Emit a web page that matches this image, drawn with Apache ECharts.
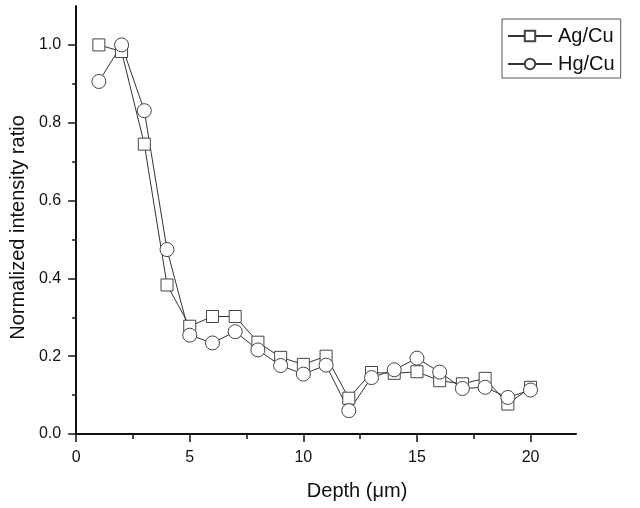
<!DOCTYPE html>
<html>
<head>
<meta charset="utf-8">
<script src="https://cdn.jsdelivr.net/npm/echarts@6/dist/echarts.min.js"></script>
<style>
  html, body { margin: 0; padding: 0; background: #fff; }
  #main { width: 640px; height: 508px; }
</style>
</head>
<body>
<div id="main"></div>
<script>
// depth in µm
const depth = [1, 2, 3, 4, 5, 6, 7, 8, 9, 10, 11, 12, 13, 14, 15, 16, 17, 18, 19, 20]
const agCu = [1.0, 0.983, 0.745, 0.383, 0.277, 0.302, 0.302, 0.236, 0.197, 0.179,
  0.2, 0.092, 0.158, 0.156, 0.16, 0.137, 0.129, 0.143, 0.077, 0.12]
const hgCu = [0.906, 1.0, 0.831, 0.474, 0.254, 0.234, 0.263, 0.216, 0.176, 0.154,
  0.177, 0.06, 0.145, 0.165, 0.195, 0.159, 0.117, 0.12, 0.094, 0.113]
const xMajor = [0, 5, 10, 15, 20]
const xMinor = [2.5, 7.5, 12.5, 17.5]
const yMajor = [0, 0.2, 0.4, 0.6, 0.8, 1.0]
const yMinor = [0.1, 0.3, 0.5, 0.7, 0.9]

const font = 'Arial, "Liberation Sans", sans-serif'
const pairs = (ys) => depth.map((d, i) => [d, ys[i]])

var chart = echarts.init(document.getElementById('main'))
chart.setOption({
  backgroundColor: '#fff',
  animation: false,
  textStyle: { fontFamily: font },
  grid: { left: 71, right: 64, top: 6, bottom: 74 },
  legend: {
    orient: 'vertical',
    left: 502,
    top: 19,
    padding: [7, 6, 4, 5],
    itemGap: 8,
    itemWidth: 44,
    itemHeight: 13,
    borderColor: '#555',
    borderWidth: 1,
    textStyle: { fontSize: 20, color: '#111', fontFamily: font, padding: [0, 0, 0, 1] },
    data: ['Ag/Cu', 'Hg/Cu']
  },
  xAxis: [
    {
      type: 'value',
      min: 0,
      max: 22,
      name: 'Depth (\u03bcm)',
      nameLocation: 'middle',
      nameGap: 47,
      nameTextStyle: { fontSize: 20, color: '#111', fontFamily: font, padding: [0, 0, 0, 62] },
      axisLine: { lineStyle: { color: '#111', width: 2 } },
      axisTick: { customValues: xMajor, length: 8, lineStyle: { color: '#111', width: 1.5 } },
      axisLabel: { customValues: xMajor, fontSize: 16, color: '#111', margin: 16, fontFamily: font },
      splitLine: { show: false }
    },
    {
      type: 'value',
      min: 0,
      max: 22,
      position: 'bottom',
      axisLine: { show: false },
      axisTick: { customValues: xMinor, length: 5, lineStyle: { color: '#111', width: 1.5 } },
      axisLabel: { show: false },
      splitLine: { show: false }
    }
  ],
  yAxis: [
    {
      type: 'value',
      min: 0,
      max: 1.1,
      name: 'Normalized intensity ratio',
      nameLocation: 'middle',
      nameGap: 46,
      nameTextStyle: { fontSize: 20, color: '#111', fontFamily: font, padding: [0, 15, 0, 0] },
      axisLine: { show: true, lineStyle: { color: '#111', width: 2 } },
      axisTick: { show: true, customValues: yMajor, length: 8, lineStyle: { color: '#111', width: 1.5 } },
      axisLabel: {
        customValues: yMajor, fontSize: 16, color: '#111', margin: 15, fontFamily: font,
        formatter: (v) => v.toFixed(1)
      },
      splitLine: { show: false }
    },
    {
      type: 'value',
      min: 0,
      max: 1.1,
      position: 'left',
      axisLine: { show: false },
      axisTick: { show: true, customValues: yMinor, length: 4, lineStyle: { color: '#111', width: 1.5 } },
      axisLabel: { show: false },
      splitLine: { show: false }
    }
  ],
  series: [
    {
      name: 'Ag/Cu',
      type: 'line',
      symbol: 'rect',
      symbolSize: 12,
      showAllSymbol: true,
      lineStyle: { color: '#333', width: 1 },
      itemStyle: { color: '#fff', borderColor: '#444', borderWidth: 1 },
      data: pairs(agCu)
    },
    {
      name: 'Hg/Cu',
      type: 'line',
      symbol: 'circle',
      symbolSize: 14,
      showAllSymbol: true,
      lineStyle: { color: '#333', width: 1 },
      itemStyle: { color: '#fff', borderColor: '#444', borderWidth: 1 },
      data: pairs(hgCu)
    }
  ]
})
window.addEventListener('resize', () => {
  chart.resize()
})
</script>
</body>
</html>
